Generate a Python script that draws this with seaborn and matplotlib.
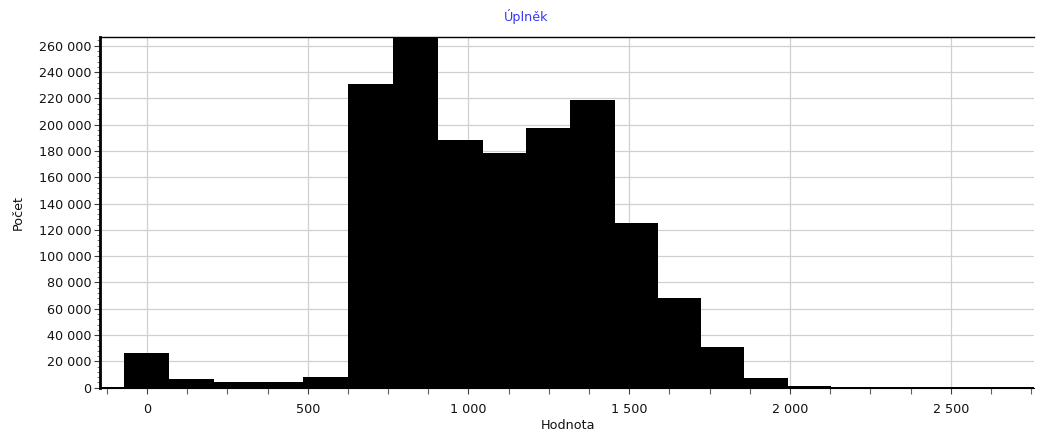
import numpy as np
import pandas as pd
import seaborn as sns
import matplotlib.pyplot as plt
from matplotlib.ticker import FuncFormatter, MultipleLocator, AutoMinorLocator

# hranice tříd histogramu a četnosti
bin_edges = [-210, -72, 69, 208, 347, 486, 625, 764, 905, 1044, 1178, 1316,
             1455, 1589, 1724, 1858, 1993, 2128, 2265, 2400, 2540, 2675, 2815]
counts = [300, 26400, 6400, 4300, 4300, 8400, 231000, 275000, 188000, 178600,
          197600, 218600, 125000, 68400, 30900, 7600, 1300, 900, 800, 700, 600, 500]

title = 'Úplněk'
x_label = 'Hodnota'
y_label = 'Počet'

sns.set_style('white')
plt.rcParams['font.family'] = ['DejaVu Sans']
fs = 9.2

edges = np.array(bin_edges, dtype=float)
df = pd.DataFrame({'stred': (edges[:-1] + edges[1:]) / 2, 'pocet': counts})

fig = plt.figure(figsize=(10.38, 4.34), dpi=100)
ax = fig.add_axes([0.0963, 0.1067, 0.8997, 0.8073])

sns.histplot(data=df, x='stred', weights='pocet', bins=list(bin_edges),
             color='black', alpha=1, linewidth=0, ax=ax, zorder=2)

ax.set_xlim(-146, 2758)
ax.set_ylim(0, 266400)

fmt = FuncFormatter(lambda v, p: f'{int(round(v)):,}'.replace(',', ' '))
ax.xaxis.set_major_locator(MultipleLocator(500))
ax.xaxis.set_minor_locator(MultipleLocator(125))
ax.yaxis.set_major_locator(MultipleLocator(20000))
ax.yaxis.set_minor_locator(AutoMinorLocator(5))
ax.xaxis.set_major_formatter(fmt)
ax.yaxis.set_major_formatter(fmt)

ax.grid(True, which='major', color='#d0d0d0', linewidth=0.9, zorder=0)
ax.set_axisbelow(True)

ax.tick_params(axis='both', which='major', labelsize=fs, length=4, width=0.8,
               color='#404040', pad=2, direction='out', bottom=True, left=True,
               labelcolor='#111111')
ax.tick_params(axis='y', which='minor', length=2, width=0.6, color='#606060',
               direction='out', left=True)
ax.tick_params(axis='x', which='minor', length=4, width=0.8, color='#606060',
               direction='out', bottom=True)
ax.tick_params(axis='x', which='major', pad=7)

ax.spines['right'].set_visible(False)
ax.spines['left'].set_linewidth(2)
ax.spines['left'].set_color('black')
ax.spines['top'].set_linewidth(1)
ax.spines['top'].set_color('black')
ax.spines['bottom'].set_linewidth(0.8)
ax.spines['bottom'].set_color('black')

ax.set_xlabel(x_label, fontsize=fs, color='#111111')
ax.set_ylabel(y_label, fontsize=fs, color='#111111')
ax.xaxis.set_label_coords(0.501, -0.088)
ax.yaxis.set_label_coords(-0.081, 0.5)

fig.text(0.507, 0.961, title, color='#3535ff', fontsize=fs, ha='center', va='center')

fig.savefig('out.png', dpi=100)
